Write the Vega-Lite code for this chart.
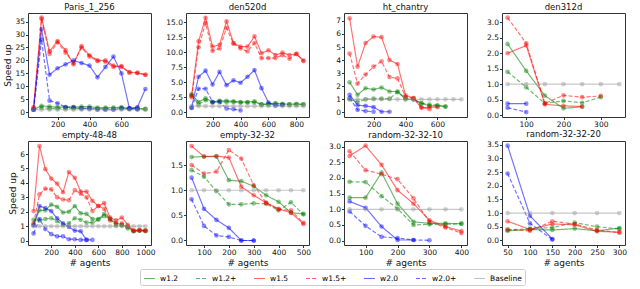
{
 "$schema": "https://vega.github.io/schema/vega-lite/v6.json",
 "padding": {"left": 3, "top": 2, "right": 3, "bottom": 1},
 "datasets": {"d": [
  {"m":"Paris_1_256","x":50,"g":1.2,"g2":1.0,"r":2.0,"r2":1.5,"b":1.0,"b2":1.0,"k":1},
  {"m":"Paris_1_256","x":100,"g":2.5,"g2":1.8,"r":36.5,"r2":36,"b":32,"b2":28,"k":1},
  {"m":"Paris_1_256","x":150,"g":2.2,"g2":1.5,"r":23.5,"r2":22.5,"b":14.5,"b2":4.5,"k":1},
  {"m":"Paris_1_256","x":200,"g":2.0,"g2":1.5,"r":27.5,"r2":27,"b":17,"b2":3.5,"k":1},
  {"m":"Paris_1_256","x":250,"g":2.0,"g2":1.5,"r":24,"r2":23,"b":18.5,"b2":2,"k":1},
  {"m":"Paris_1_256","x":300,"g":2.0,"g2":1.5,"r":18.5,"r2":19,"b":20,"b2":2,"k":1},
  {"m":"Paris_1_256","x":350,"g":2.2,"g2":1.5,"r":25.5,"r2":25,"b":19,"b2":1.5,"k":1},
  {"m":"Paris_1_256","x":400,"g":2.2,"g2":1.5,"r":22,"r2":21.5,"b":18,"b2":1.5,"k":1},
  {"m":"Paris_1_256","x":450,"g":1.8,"g2":1.4,"r":20,"r2":19.8,"b":13.5,"b2":1,"k":1},
  {"m":"Paris_1_256","x":500,"g":1.8,"g2":1.4,"r":20,"r2":19.5,"b":17.5,"b2":1,"k":1},
  {"m":"Paris_1_256","x":550,"g":1.8,"g2":1.5,"r":18,"r2":17.5,"b":21.5,"b2":1,"k":1},
  {"m":"Paris_1_256","x":600,"g":2.0,"g2":1.5,"r":17.5,"r2":17.8,"b":15,"b2":1.5,"k":1},
  {"m":"Paris_1_256","x":650,"g":1.5,"g2":1.3,"r":15.5,"r2":15.3,"b":1.5,"b2":1.5,"k":1},
  {"m":"Paris_1_256","x":700,"g":1.5,"g2":1.2,"r":15.2,"r2":15.2,"b":2,"b2":1.2,"k":1},
  {"m":"Paris_1_256","x":750,"g":1.3,"g2":1.2,"r":14.5,"r2":14.5,"b":9,"k":1},

  {"m":"den520d","x":50,"g":3.0,"g2":2.8,"r":2.7,"r2":2.5,"b":0.8,"b2":0.7,"k":1},
  {"m":"den520d","x":100,"g":1.7,"g2":1.3,"r":11.8,"r2":10.8,"b":5.9,"b2":3.9,"k":1},
  {"m":"den520d","x":150,"g":2.3,"g2":2.0,"r":15.7,"r2":14.8,"b":6.9,"b2":3.9,"k":1},
  {"m":"den520d","x":200,"g":1.7,"g2":1.6,"r":10.9,"r2":10.2,"b":4.6,"b2":1.7,"k":1},
  {"m":"den520d","x":250,"g":1.9,"g2":1.8,"r":11.2,"r2":10.6,"b":6.7,"b2":1.7,"k":1},
  {"m":"den520d","x":300,"g":1.9,"g2":1.7,"r":15.1,"r2":14.0,"b":4.5,"b2":0.6,"k":1},
  {"m":"den520d","x":350,"g":1.8,"g2":1.7,"r":11.5,"r2":11.4,"b":5.3,"b2":0.5,"k":1},
  {"m":"den520d","x":400,"g":1.7,"g2":1.6,"r":10.9,"r2":10.6,"b":4.9,"b2":0.3,"k":1},
  {"m":"den520d","x":450,"g":1.7,"g2":1.6,"r":10.9,"r2":10.1,"b":5.9,"k":1},
  {"m":"den520d","x":500,"g":1.8,"g2":1.6,"r":12.6,"r2":11.5,"b":7.0,"k":1},
  {"m":"den520d","x":550,"g":1.3,"g2":1.3,"r":9.8,"r2":9.0,"b":4.0,"k":1},
  {"m":"den520d","x":600,"g":1.4,"g2":1.3,"r":10.3,"r2":9.0,"b":1.6,"k":1},
  {"m":"den520d","x":650,"g":1.5,"g2":1.4,"r":9.5,"r2":9.0,"b":1.1,"k":1},
  {"m":"den520d","x":700,"g":1.4,"g2":1.3,"r":9.9,"r2":9.5,"b":1.2,"k":1},
  {"m":"den520d","x":750,"g":1.3,"g2":1.3,"r":9.5,"r2":8.9,"k":1},
  {"m":"den520d","x":800,"g":1.4,"g2":1.3,"r":9.7,"r2":9.7,"k":1},
  {"m":"den520d","x":850,"g":1.3,"g2":1.3,"r":8.6,"r2":8.5,"k":1},

  {"m":"ht_chantry","x":50,"g":2.3,"g2":1.0,"r":7.2,"r2":4.5,"b":1.35,"b2":1.1,"k":1},
  {"m":"ht_chantry","x":100,"g":1.35,"g2":0.8,"r":3.5,"r2":2.2,"b":0.55,"b2":0.2,"k":1},
  {"m":"ht_chantry","x":150,"g":1.85,"g2":1.0,"r":5.3,"r2":2.9,"b":0.5,"b2":0.1,"k":1},
  {"m":"ht_chantry","x":200,"g":1.75,"g2":1.05,"r":5.8,"r2":3.5,"b":0.4,"b2":0.05,"k":1},
  {"m":"ht_chantry","x":250,"g":1.9,"g2":1.05,"r":5.75,"r2":3.9,"b":0.05,"k":1},
  {"m":"ht_chantry","x":300,"g":1.6,"g2":1.05,"r":4.0,"r2":2.7,"b":0.05,"k":1},
  {"m":"ht_chantry","x":350,"g":1.6,"g2":1.55,"r":3.7,"r2":2.6,"k":1},
  {"m":"ht_chantry","x":400,"g":1.0,"g2":1.1,"r":1.3,"r2":1.2,"k":1},
  {"m":"ht_chantry","x":450,"g":1.0,"g2":1.0,"r":1.1,"r2":1.1,"k":1},
  {"m":"ht_chantry","x":500,"g":0.7,"g2":0.7,"r":0.35,"r2":0.4,"k":1},
  {"m":"ht_chantry","x":550,"g":0.5,"g2":0.6,"r":0.4,"r2":0.25,"k":1},
  {"m":"ht_chantry","x":600,"g":0.5,"g2":0.55,"r":0.4,"k":1},
  {"m":"ht_chantry","x":650,"g":0.45,"g2":0.45,"k":1},
  {"m":"ht_chantry","x":700,"k":1},
  {"m":"ht_chantry","x":750,"k":1},

  {"m":"den312d","x":50,"g":2.3,"g2":1.4,"r":2.0,"r2":3.15,"b":0.37,"b2":0.24,"k":1},
  {"m":"den312d","x":100,"g":1.43,"g2":0.9,"r":2.25,"r2":2.32,"b":0.37,"b2":0.1,"k":1},
  {"m":"den312d","x":150,"g":0.63,"g2":0.38,"r":0.35,"r2":0.38,"k":1},
  {"m":"den312d","x":200,"g":0.22,"g2":0.46,"r":0.3,"r2":0.64,"k":1},
  {"m":"den312d","x":250,"g":0.27,"g2":0.4,"r":0.28,"r2":0.58,"k":1},
  {"m":"den312d","x":300,"g2":0.58,"r2":0.62,"k":1},
  {"m":"den312d","x":350,"k":1},

  {"m":"empty-48-48","x":50,"g":1.1,"g2":1.45,"r":2.05,"r2":1.2,"b":1.05,"b2":0.5,"k":1},
  {"m":"empty-48-48","x":100,"g":2.1,"g2":1.4,"r":6.55,"r2":3.2,"b":2.4,"b2":1.5,"k":1},
  {"m":"empty-48-48","x":150,"g":2.1,"g2":1.5,"r":4.95,"r2":3.6,"b":2.25,"b2":0.8,"k":1},
  {"m":"empty-48-48","x":200,"g":2.5,"g2":1.55,"r":4.3,"r2":3.55,"b":2.05,"b2":0.45,"k":1},
  {"m":"empty-48-48","x":250,"g":2.35,"g2":1.35,"r":3.95,"r2":3.0,"b":1.55,"b2":0.3,"k":1},
  {"m":"empty-48-48","x":300,"g":1.95,"g2":1.1,"r":3.35,"r2":2.85,"b":1.2,"b2":0.3,"k":1},
  {"m":"empty-48-48","x":350,"g":2.0,"g2":1.2,"r":4.75,"r2":2.8,"b":0.95,"b2":0.1,"k":1},
  {"m":"empty-48-48","x":400,"g":2.4,"g2":1.55,"r":4.35,"r2":3.5,"b":0.7,"b2":0.1,"k":1},
  {"m":"empty-48-48","x":450,"g":1.9,"g2":1.45,"r":3.4,"r2":3.25,"b":0.65,"b2":0.05,"k":1},
  {"m":"empty-48-48","x":500,"g":1.85,"g2":1.25,"r":3.4,"r2":3.0,"b":0.05,"b2":0.05,"k":1},
  {"m":"empty-48-48","x":550,"g":1.5,"g2":1.25,"r":2.75,"r2":2.05,"b2":0.05,"k":1},
  {"m":"empty-48-48","x":600,"g":1.5,"g2":1.45,"r":2.4,"r2":2.4,"k":1},
  {"m":"empty-48-48","x":650,"g":1.85,"g2":1.7,"r":2.6,"r2":2.2,"k":1},
  {"m":"empty-48-48","x":700,"g":1.5,"g2":1.5,"r":1.6,"r2":1.4,"k":1},
  {"m":"empty-48-48","x":750,"g":1.2,"g2":1.05,"r":1.4,"r2":1.2,"k":1},
  {"m":"empty-48-48","x":800,"g":1.1,"g2":1.05,"r":1.6,"r2":1.2,"k":1},
  {"m":"empty-48-48","x":850,"g":0.95,"g2":0.85,"r":1.1,"r2":1.0,"k":1},
  {"m":"empty-48-48","x":900,"g":0.65,"g2":0.65,"r":0.7,"r2":0.7,"k":1},
  {"m":"empty-48-48","x":950,"g":0.7,"g2":0.7,"r":0.75,"r2":0.7,"k":1},
  {"m":"empty-48-48","x":1000,"g":0.7,"g2":0.65,"r":0.7,"r2":0.7,"k":1},

  {"m":"empty-32-32","x":50,"g":1.66,"g2":1.4,"r":1.88,"r2":1.5,"b":1.25,"b2":0.82,"k":1},
  {"m":"empty-32-32","x":100,"g":1.67,"g2":1.27,"r":1.67,"r2":1.33,"b":0.63,"b2":0.29,"k":1},
  {"m":"empty-32-32","x":150,"g":1.67,"g2":0.98,"r":1.68,"r2":1.37,"b":0.41,"b2":0.1,"k":1},
  {"m":"empty-32-32","x":200,"g":1.2,"g2":0.72,"r":1.65,"r2":1.8,"b":0.25,"b2":0.07,"k":1},
  {"m":"empty-32-32","x":250,"g":1.18,"g2":0.72,"r":1.07,"r2":1.63,"b":0.0,"b2":0.0,"k":1},
  {"m":"empty-32-32","x":300,"g":1.08,"g2":0.74,"r":0.9,"r2":1.1,"b":0.0,"b2":0.0,"k":1},
  {"m":"empty-32-32","x":350,"g":0.9,"g2":0.73,"r":0.75,"r2":0.75,"k":1},
  {"m":"empty-32-32","x":400,"g":0.77,"g2":0.6,"r":0.63,"r2":0.62,"k":1},
  {"m":"empty-32-32","x":450,"g":0.55,"g2":0.76,"r":0.55,"r2":0.6,"k":1},
  {"m":"empty-32-32","x":500,"g":0.53,"g2":0.52,"r":0.33,"r2":0.35,"k":1},

  {"m":"random-32-32-10","x":50,"g":1.37,"g2":1.88,"r":2.7,"r2":2.85,"b":1.25,"b2":0.93,"k":1},
  {"m":"random-32-32-10","x":100,"g":1.37,"g2":1.87,"r":3.03,"r2":2.25,"b":1.05,"b2":0.47,"k":1},
  {"m":"random-32-32-10","x":150,"g":2.17,"g2":1.42,"r":2.42,"r2":2.12,"b":0.45,"b2":0.12,"k":1},
  {"m":"random-32-32-10","x":200,"g":1.18,"g2":1.02,"r":1.61,"r2":1.96,"b":0.02,"b2":0.08,"k":1},
  {"m":"random-32-32-10","x":250,"g":0.6,"g2":0.5,"r":1.18,"r2":1.35,"b":0.02,"b2":0.02,"k":1},
  {"m":"random-32-32-10","x":300,"g":0.55,"g2":0.52,"r":0.65,"r2":0.6,"b2":0.01,"k":1},
  {"m":"random-32-32-10","x":350,"g":0.55,"g2":0.52,"r":0.45,"r2":0.42,"k":1},
  {"m":"random-32-32-10","x":400,"g":0.54,"g2":0.54,"r":0.3,"r2":0.24,"k":1},

  {"m":"random-32-32-20","x":50,"g":0.35,"g2":0.38,"r":0.7,"r2":0.4,"b":3.47,"b2":2.45,"k":1},
  {"m":"random-32-32-20","x":100,"g":0.4,"g2":0.43,"r":0.4,"r2":0.35,"b":0.9,"b2":0.62,"k":1},
  {"m":"random-32-32-20","x":150,"g":0.38,"g2":0.47,"r":0.6,"r2":0.7,"b":0.05,"b2":0.03,"k":1},
  {"m":"random-32-32-20","x":200,"g":0.43,"g2":0.65,"r":0.57,"r2":0.6,"k":1},
  {"m":"random-32-32-20","x":250,"g":0.35,"g2":0.5,"r":0.33,"r2":0.38,"k":1},
  {"m":"random-32-32-20","x":300,"g":0.45,"g2":0.42,"r":0.3,"r2":0.28,"k":1}
 ]},
 "data": {"name": "d"},
 "transform": [
  {"fold": ["g","g2","r","r2","b","b2","k"], "as": ["s","y"]},
  {"filter": "isValid(datum.y)"}
 ],
 "columns": 4,
 "bounds": "flush",
 "spacing": {"row": 24, "column": 35},
 "resolve": {"scale": {"x": "independent", "y": "independent", "color": "shared", "strokeDash": "shared"}},
 "concat": [
  {"title": "Paris_1_256", "width": 123, "height": 104,
   "transform": [{"filter": "datum.m == 'Paris_1_256'"}],
   "encoding": {
    "x": {"field": "x", "type": "quantitative", "scale": {"domain": [15, 785]}, "axis": {"values": [200,400,600], "format": "d", "title": null}},
    "y": {"field": "y", "type": "quantitative", "scale": {"domain": [-1.8, 38.3]}, "axis": {"values": [0,5,10,15,20,25,30,35], "title": "Speed up"}},
    "color": {"field": "s", "type": "nominal", "scale": {"domain": ["g","g2","r","r2","b","b2","k"], "range": ["#008000","#008000","#ff0000","#ff0000","#0000ff","#0000ff","#999999"]}, "legend": {"orient": "none", "legendX": 112, "legendY": 256, "direction": "horizontal", "columns": 7, "labelExpr": "datum.label=='g'?'w1.2':datum.label=='g2'?'w1.2+':datum.label=='r'?'w1.5':datum.label=='r2'?'w1.5+':datum.label=='b'?'w2.0':datum.label=='b2'?'w2.0+':'Baseline'"}}
   },
   "layer": [
    {"mark": {"type": "line", "strokeWidth": 1.2, "opacity": 0.55}, "encoding": {"strokeDash": {"field": "s", "type": "nominal", "scale": {"domain": ["g","g2","r","r2","b","b2","k"], "range": [[1,0],[4,2],[1,0],[4,2],[1,0],[4,2],[1,0]]}, "legend": {"orient": "none", "legendX": 112, "legendY": 256, "direction": "horizontal", "columns": 7, "labelExpr": "datum.label=='g'?'w1.2':datum.label=='g2'?'w1.2+':datum.label=='r'?'w1.5':datum.label=='r2'?'w1.5+':datum.label=='b'?'w2.0':datum.label=='b2'?'w2.0+':'Baseline'"}}}},
    {"mark": {"type": "point", "filled": true, "size": 22, "opacity": 0.45}, "encoding": {}}
   ]},
  {"title": "den520d", "width": 123, "height": 104,
   "transform": [{"filter": "datum.m == 'den520d'"}],
   "encoding": {
    "x": {"field": "x", "type": "quantitative", "scale": {"domain": [10, 890]}, "axis": {"values": [200,400,600,800], "format": "d", "title": null}},
    "y": {"field": "y", "type": "quantitative", "scale": {"domain": [-0.8, 16.5]}, "axis": {"values": [0,2.5,5,7.5,10,12.5,15], "format": ".1f", "title": null}},
    "color": {"field": "s", "type": "nominal"}
   },
   "layer": [
    {"mark": {"type": "line", "strokeWidth": 1.2, "opacity": 0.55}, "encoding": {"strokeDash": {"field": "s", "type": "nominal"}}},
    {"mark": {"type": "point", "filled": true, "size": 22, "opacity": 0.45}, "encoding": {}}
   ]},
  {"title": "ht_chantry", "width": 123, "height": 104,
   "transform": [{"filter": "datum.m == 'ht_chantry'"}],
   "encoding": {
    "x": {"field": "x", "type": "quantitative", "scale": {"domain": [15, 785]}, "axis": {"values": [200,400,600], "format": "d", "title": null}},
    "y": {"field": "y", "type": "quantitative", "scale": {"domain": [-0.35, 7.6]}, "axis": {"values": [0,1,2,3,4,5,6,7], "title": null}},
    "color": {"field": "s", "type": "nominal"}
   },
   "layer": [
    {"mark": {"type": "line", "strokeWidth": 1.2, "opacity": 0.55}, "encoding": {"strokeDash": {"field": "s", "type": "nominal"}}},
    {"mark": {"type": "point", "filled": true, "size": 22, "opacity": 0.45}, "encoding": {}}
   ]},
  {"title": "den312d", "width": 123, "height": 104,
   "transform": [{"filter": "datum.m == 'den312d'"}],
   "encoding": {
    "x": {"field": "x", "type": "quantitative", "scale": {"domain": [35, 365]}, "axis": {"values": [100,200,300], "format": "d", "title": null}},
    "y": {"field": "y", "type": "quantitative", "scale": {"domain": [-0.06, 3.3]}, "axis": {"values": [0,0.5,1,1.5,2,2.5,3], "format": ".1f", "title": null}},
    "color": {"field": "s", "type": "nominal"}
   },
   "layer": [
    {"mark": {"type": "line", "strokeWidth": 1.2, "opacity": 0.55}, "encoding": {"strokeDash": {"field": "s", "type": "nominal"}}},
    {"mark": {"type": "point", "filled": true, "size": 22, "opacity": 0.45}, "encoding": {}}
   ]},
  {"title": "empty-48-48", "width": 123, "height": 104,
   "transform": [{"filter": "datum.m == 'empty-48-48'"}],
   "encoding": {
    "x": {"field": "x", "type": "quantitative", "scale": {"domain": [2.5, 1047.5]}, "axis": {"values": [200,400,600,800,1000], "format": "d", "title": "# agents"}},
    "y": {"field": "y", "type": "quantitative", "scale": {"domain": [-0.3, 6.9]}, "axis": {"values": [0,1,2,3,4,5,6], "title": "Speed up"}},
    "color": {"field": "s", "type": "nominal"}
   },
   "layer": [
    {"mark": {"type": "line", "strokeWidth": 1.2, "opacity": 0.55}, "encoding": {"strokeDash": {"field": "s", "type": "nominal"}}},
    {"mark": {"type": "point", "filled": true, "size": 22, "opacity": 0.45}, "encoding": {}}
   ]},
  {"title": "empty-32-32", "width": 123, "height": 104,
   "transform": [{"filter": "datum.m == 'empty-32-32'"}],
   "encoding": {
    "x": {"field": "x", "type": "quantitative", "scale": {"domain": [27.5, 522.5]}, "axis": {"values": [100,200,300,400,500], "format": "d", "title": "# agents"}},
    "y": {"field": "y", "type": "quantitative", "scale": {"domain": [-0.09, 1.98]}, "axis": {"values": [0,0.5,1,1.5], "format": ".1f", "title": null}},
    "color": {"field": "s", "type": "nominal"}
   },
   "layer": [
    {"mark": {"type": "line", "strokeWidth": 1.2, "opacity": 0.55}, "encoding": {"strokeDash": {"field": "s", "type": "nominal"}}},
    {"mark": {"type": "point", "filled": true, "size": 22, "opacity": 0.45}, "encoding": {}}
   ]},
  {"title": "random-32-32-10", "width": 123, "height": 104,
   "transform": [{"filter": "datum.m == 'random-32-32-10'"}],
   "encoding": {
    "x": {"field": "x", "type": "quantitative", "scale": {"domain": [32.5, 417.5]}, "axis": {"values": [100,200,300,400], "format": "d", "title": "# agents"}},
    "y": {"field": "y", "type": "quantitative", "scale": {"domain": [-0.14, 3.18]}, "axis": {"values": [0,0.5,1,1.5,2,2.5,3], "format": ".1f", "title": null}},
    "color": {"field": "s", "type": "nominal"}
   },
   "layer": [
    {"mark": {"type": "line", "strokeWidth": 1.2, "opacity": 0.55}, "encoding": {"strokeDash": {"field": "s", "type": "nominal"}}},
    {"mark": {"type": "point", "filled": true, "size": 22, "opacity": 0.45}, "encoding": {}}
   ]},
  {"title": "random-32-32-20", "width": 123, "height": 104,
   "transform": [{"filter": "datum.m == 'random-32-32-20'"}],
   "encoding": {
    "x": {"field": "x", "type": "quantitative", "scale": {"domain": [37.5, 312.5]}, "axis": {"values": [50,100,150,200,250,300], "format": "d", "title": "# agents"}},
    "y": {"field": "y", "type": "quantitative", "scale": {"domain": [-0.17, 3.64]}, "axis": {"values": [0,0.5,1,1.5,2,2.5,3,3.5], "format": ".1f", "title": null}},
    "color": {"field": "s", "type": "nominal"}
   },
   "layer": [
    {"mark": {"type": "line", "strokeWidth": 1.2, "opacity": 0.55}, "encoding": {"strokeDash": {"field": "s", "type": "nominal"}}},
    {"mark": {"type": "point", "filled": true, "size": 22, "opacity": 0.45}, "encoding": {}}
   ]}
 ],
 "config": {
  "font": "DejaVu Sans",
  "view": {"stroke": "#333333", "strokeWidth": 1},
  "axis": {"grid": false, "domain": false, "tickColor": "#333333", "tickSize": 2.5, "labelFontSize": 7.5, "labelColor": "#111111", "labelPadding": 1, "titleFontSize": 9, "titleFontWeight": "normal", "titleColor": "#111111", "titlePadding": 2},
  "title": {"fontSize": 8.5, "fontWeight": "normal", "offset": 2, "color": "#111111"},
  "legend": {"title": null, "strokeColor": "#cccccc", "padding": 3, "cornerRadius": 2, "labelFontSize": 7.5, "symbolType": "stroke", "symbolSize": 120, "symbolStrokeWidth": 1.2, "symbolOpacity": 0.6, "columnPadding": 14}
 }
}
